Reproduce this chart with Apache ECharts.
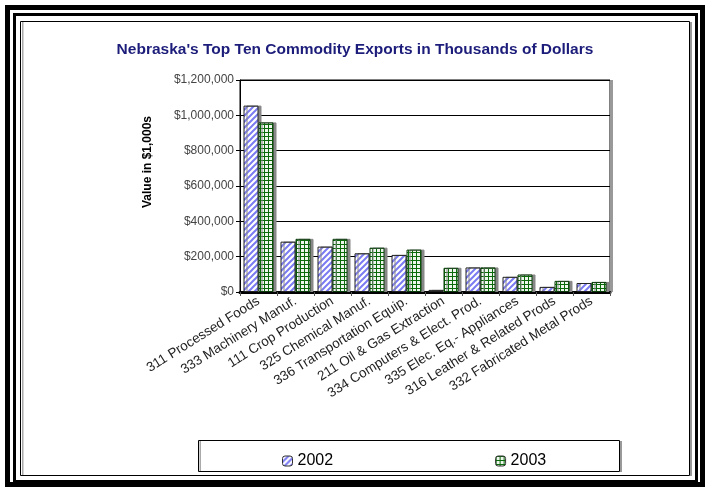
<!DOCTYPE html>
<html><head><meta charset="utf-8">
<script src="https://cdn.jsdelivr.net/npm/echarts@6/dist/echarts.min.js"></script>
<style>html,body{margin:0;padding:0;background:#fff}#c{width:705px;height:487px}</style>
</head><body><div id="c"></div>
<script>
const categories = ['311 Processed Foods','333 Machinery Manuf.','111 Crop Production','325 Chemical Manuf.','336 Transportation Equip.','211 Oil & Gas Extraction','334 Computers & Elect. Prod.','335 Elec. Eq.- Appliances','316 Leather & Related Prods','332 Fabricated Metal Prods'];
const seriesNames = ['2002','2003'];
const values2002 = [1055000, 285000, 257000, 219000, 210000, 12000, 139000, 86000, 29000, 51000];
const values2003 = [960000, 301000, 301000, 251000, 240000, 137000, 139000, 99000, 63000, 57000];
const yTicks = [0, 200000, 400000, 600000, 800000, 1000000, 1200000];

function stripeCanvas(){
  const c=document.createElement('canvas'); c.width=6; c.height=6;
  const g=c.getContext('2d');
  g.fillStyle='#ffffff'; g.fillRect(0,0,6,6);
  g.strokeStyle='#7a7af2'; g.lineWidth=2;
  g.beginPath();
  g.moveTo(0,6); g.lineTo(6,0);
  g.moveTo(-3,3); g.lineTo(3,-3);
  g.moveTo(3,9); g.lineTo(9,3);
  g.stroke();
  return c;
}
function gridCanvas(){
  const c=document.createElement('canvas'); c.width=4; c.height=4;
  const g=c.getContext('2d');
  g.fillStyle='#eef6ee'; g.fillRect(0,0,4,4);
  g.fillStyle='#0b6b0b';
  g.fillRect(0,0,4,1); g.fillRect(0,0,1,4);
  return c;
}
const pat2002 = {image: stripeCanvas(), repeat:'repeat'};
const pat2003 = {image: gridCanvas(), repeat:'repeat'};

const chart = echarts.init(document.getElementById('c'), null, {renderer:'canvas'});
const fmt = v => '$' + v.toString().replace(/\B(?=(\d{3})+(?!\d))/g, ',');

chart.setOption({
  animation:false,
  backgroundColor:'#fff',
  title:{text:"Nebraska's Top Ten Commodity Exports in Thousands of Dollars", left:350, top:37, textAlign:'center',
    textStyle:{color:'#1c1c7a', fontSize:15.5, fontWeight:'bold', fontFamily:'Liberation Sans, Arial'}},
  grid:{left:240, right:95, top:80, bottom:195, show:true, borderColor:'#000', borderWidth:1, backgroundColor:'#fff'},
  legend:{data:seriesNames, left:277, top:448, itemWidth:10, itemHeight:10, itemGap:162,
    textStyle:{fontSize:16, color:'#000', fontFamily:'Liberation Sans, Arial'},
    itemStyle:{borderColor:'#333', borderWidth:1}},
  xAxis:{type:'category', data:categories,
    axisLine:{lineStyle:{color:'#000', width:3}},
    axisTick:{show:true, length:4, lineStyle:{color:'#555'}},
    axisLabel:{rotate:32, interval:0, fontSize:13.5, color:'#222', fontFamily:'Liberation Sans, Arial', margin:8}},
  yAxis:{type:'value', min:0, max:1200000, interval:200000,
    axisLine:{show:true, lineStyle:{color:'#000'}},
    axisTick:{show:true, length:4, lineStyle:{color:'#000'}},
    axisLabel:{formatter:fmt, fontSize:12, color:'#444', fontFamily:'Liberation Sans, Arial', margin:6},
    splitLine:{lineStyle:{color:'#000', width:1}}},
  series:[
    {name:seriesNames[0], type:'bar', data:values2002, barWidth:15, barGap:'0%',
      itemStyle:{color:pat2002, borderColor:'#222', borderWidth:1, shadowColor:'#888', shadowOffsetX:3, shadowBlur:0}},
    {name:seriesNames[1], type:'bar', data:values2003, barWidth:15,
      itemStyle:{color:pat2003, borderColor:'#0a3a0a', borderWidth:1, shadowColor:'#888', shadowOffsetX:3, shadowBlur:0}}
  ],
  graphic:[
    {type:'rect', shape:{x:7.5, y:7.5, width:695, height:477}, style:{fill:null, stroke:'#000', lineWidth:5}, silent:true},
    {type:'rect', shape:{x:14.5, y:14.5, width:682, height:467}, style:{fill:null, stroke:'#000', lineWidth:3}, silent:true},
    {type:'rect', shape:{x:20.5, y:21.5, width:669, height:454}, style:{fill:null, stroke:'#000', lineWidth:1}, silent:true},
    {type:'rect', shape:{x:22, y:22, width:1.5, height:453}, style:{fill:'#aaa'}, silent:true},
    {type:'rect', shape:{x:690, y:22, width:2, height:454}, style:{fill:'#999'}, silent:true},
    {type:'rect', shape:{x:198.5, y:440.5, width:421, height:31}, style:{fill:null, stroke:'#000', lineWidth:1}, silent:true, z:-1},
    {type:'rect', shape:{x:620, y:441, width:2, height:31}, style:{fill:'#999'}, silent:true},
    {type:'rect', shape:{x:199.5, y:441, width:1.5, height:30}, style:{fill:'#aaa'}, silent:true},
    {type:'rect', shape:{x:610, y:80, width:3, height:212}, style:{fill:'#999'}, silent:true},
    {type:'text', x:148, y:162, rotation:Math.PI/2, style:{text:'Value in $1,000s', font:'bold 12px Liberation Sans, Arial', fill:'#000', textAlign:'center', textVerticalAlign:'middle'}, silent:true}
  ]
});
</script></body></html>
